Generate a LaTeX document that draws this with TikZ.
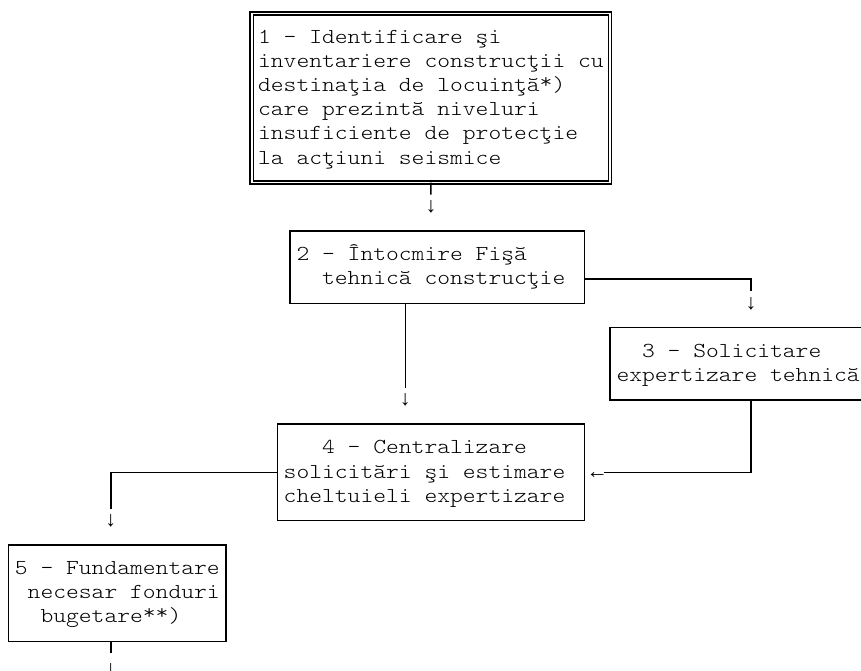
\documentclass[tikz,border=0pt]{standalone}
\usepackage{fontspec}
% light typewriter face, widened to a 0.6em advance
\newfontfamily\boxfont{lmmonolt10-regular.otf}[FakeStretch=1.1429]
\newfontfamily\arrfont{Liberation Mono}
% raised footnote star, as set by typewriter faces
\newcommand\hstar{\raisebox{2.6pt}{*}}
\begin{document}
\begin{tikzpicture}[x=0.75pt,y=-0.75pt,
  % character grid: column centres and row centres of the text layout
  declare function={cx(\c)=8.5+12.8*\c; ry(\r)=13.5+24.15*\r;},
  every node/.style={inner sep=0pt,outer sep=0pt},
  txt/.style={anchor=base west,font=\boxfont\fontsize{16}{19}\selectfont},
  arr/.style={anchor=base,font=\arrfont\fontsize{16}{19}\selectfont},
  frame/.style={draw=black,line width=1.2pt,anchor=north west,rectangle},
  dframe/.style={draw=black,line width=1pt,double=white,double distance=1.4pt,anchor=north west,rectangle},
  link/.style={draw=black,line width=1.2pt,line join=miter}]
\path[use as bounding box,clip] (0,0) rectangle (861,671);

% boxes
\node[dframe,minimum width=28*9.6pt,minimum height=7*18.1125pt] (b1) at ({cx(19)},{ry(0)}) {};
\node[frame,minimum width=23*9.6pt,minimum height=3*18.1125pt] (b2) at ({cx(22)},{ry(9)}) {};
\node[frame,minimum width=20*9.6pt,minimum height=3*18.1125pt] (b3) at ({cx(47)},{ry(13)}) {};
\node[frame,minimum width=24*9.6pt,minimum height=4*18.1125pt] (b4) at ({cx(21)},{ry(17)}) {};
\node[frame,minimum width=17*9.6pt,minimum height=4*18.1125pt] (b5) at ({cx(0)},{ry(22)}) {};

% box texts
\node[txt] (t1a) at ({cx(20)-6.4},{ry(1)+5.7}) {1 - Identificare şi};
\node[txt] (t1b) at ({cx(20)-6.4},{ry(2)+5.7}) {inventariere construcţii cu};
\node[txt] (t1c) at ({cx(20)-6.4},{ry(3)+5.7}) {destinaţia de locuinţă\hstar)};
\node[txt] (t1d) at ({cx(20)-6.4},{ry(4)+5.7}) {care prezintă niveluri};
\node[txt] (t1e) at ({cx(20)-6.4},{ry(5)+5.7}) {insuficiente de protecţie};
\node[txt] (t1f) at ({cx(20)-6.4},{ry(6)+5.7}) {la acţiuni seismice};

\node[txt] (t2a) at ({cx(23)-6.4},{ry(10)+5.7}) {2 - Întocmire Fişă};
\node[txt] (t2b) at ({cx(25)-6.4},{ry(11)+5.7}) {tehnică construcţie};

\node[txt] (t3a) at ({cx(50)-6.4},{ry(14)+5.7}) {3 - Solicitare};
\node[txt] (t3b) at ({cx(48)-6.4},{ry(15)+5.7}) {expertizare tehnică};

\node[txt] (t4a) at ({cx(25)-6.4},{ry(18)+5.7}) {4 - Centralizare};
\node[txt] (t4b) at ({cx(22)-6.4},{ry(19)+5.7}) {solicitări şi estimare};
\node[txt] (t4c) at ({cx(22)-6.4},{ry(20)+5.7}) {cheltuieli expertizare};

\node[txt] (t5a) at ({cx(1)-6.4},{ry(23)+5.7}) {5 - Fundamentare};
\node[txt] (t5b) at ({cx(2)-6.4},{ry(24)+5.7}) {necesar fonduri};
\node[txt] (t5c) at ({cx(3)-6.4},{ry(25)+5.7}) {bugetare\hstar\hstar)};

% 1 -> 2
\coordinate (s12) at ({cx(33)},{ry(7)+12.07});
\draw[link] (b1.south) -- (s12);
\node[arr] (a12) at ({cx(33)},{ry(8)+5.7}) {↓};

% 2 -> 3
\coordinate (k23) at ({cx(58)},{ry(11)});
\coordinate (s23) at ({cx(58)},{ry(11)+12.07});
\draw[link] (b2.east |- k23) -- (k23) -- (s23);
\node[arr] (a23) at ({cx(58)},{ry(12)+5.7}) {↓};

% 2 -> 4
\coordinate (s24) at ({cx(31)},{ry(15)+12.07});
\draw[link] (b2.south -| s24) -- (s24);
\node[arr] (a24) at ({cx(31)},{ry(16)+5.7}) {↓};

% 3 -> 4
\coordinate (k34) at ({cx(58)},{ry(19)});
\coordinate (e34) at ({cx(47)-6.4},{ry(19)});
\draw[link] (b3.south -| k34) -- (k34) -- (e34);
\node[arr] (a34) at ({cx(46)},{ry(19)+5.7}) {←};

% 4 -> 5
\coordinate (k45) at ({cx(8)},{ry(19)});
\coordinate (s45) at ({cx(8)},{ry(20)+12.07});
\draw[link] (b4.west |- k45) -- (k45) -- (s45);
\node[arr] (a45) at ({cx(8)},{ry(21)+5.7}) {↓};

% 5 -> next step
\coordinate (s5) at ({cx(8)},{ry(26)+12.07});
\draw[link] (b5.south -| s5) -- (s5);
\node[arr] (a5) at ({cx(8)},{ry(27)+10}) {↓};
\end{tikzpicture}
\end{document}
